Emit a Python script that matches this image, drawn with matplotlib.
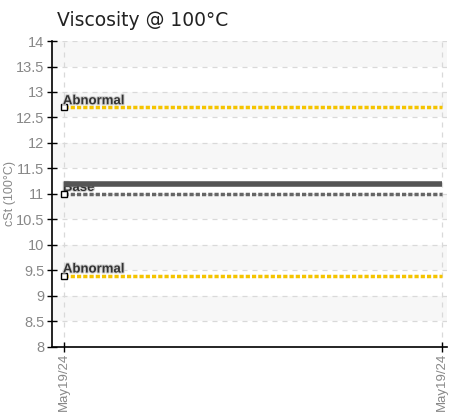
import numpy as np
import matplotlib.pyplot as plt
import matplotlib.patheffects as pe

# data
dates = [0, 1]
date_labels = ['May19/24', 'May19/24']
abnormal_hi = [12.7, 12.7]
abnormal_lo = [9.4, 9.4]
base = [11.0, 11.0]
result = [11.2, 11.2]
yticks = np.arange(8, 14.01, 0.5)

narrow = ['Liberation Sans', 'DejaVu Sans']

fig = plt.figure(figsize=(4.51, 4.15), dpi=100)
ax = fig.add_axes([0.1153, 0.1639, 0.991 - 0.1153, 0.9012 - 0.1639])

# alternating bands
for lo in np.arange(8.5, 14, 1.0):
    ax.axhspan(lo, lo + 0.5, color='#f7f7f7', zorder=0, lw=0)

ax.grid(True, color='#d9d9d9', linestyle=(0, (4, 4)), linewidth=0.9, zorder=1)

# lines
ax.plot(dates, result, color='#555555', lw=4, solid_capstyle='butt', zorder=3)
ax.plot(dates, base, color='#666666', lw=2.5, linestyle=(0, (1.2, 0.6)), zorder=3)
ax.plot(dates, abnormal_hi, color='#f5c400', lw=2.5, linestyle=(0, (1.2, 0.6)), zorder=3)
ax.plot(dates, abnormal_lo, color='#f5c400', lw=2.5, linestyle=(0, (1.2, 0.6)), zorder=3)

for y in [abnormal_hi[0], base[0], abnormal_lo[0]]:
    ax.plot(dates[0], y, marker='s', ms=4.5, mfc='white', mec='black', mew=1, zorder=5)

shadow = [pe.withStroke(linewidth=1.5, foreground='#d0d0d0')]
for y, txt, z in [(abnormal_hi[0], 'Abnormal', 6), (base[0], 'Base', 2), (abnormal_lo[0], 'Abnormal', 6)]:
    ax.text(dates[0] - 0.003, y + 0.06, txt, fontsize=9.5, family=narrow,
            color='#333333', fontweight='bold', zorder=z, path_effects=shadow)

ax.set_xlim(-0.0318, 1.0136)
ax.set_ylim(8, 14)
ax.set_yticks(yticks)
ax.set_yticklabels(['%g' % v for v in yticks], family=narrow, fontsize=10.5, color='#888888')
ax.set_xticks(dates)
ax.set_xticklabels(date_labels, rotation=90, family=narrow, fontsize=9.5, color='#888888')
ax.tick_params(axis='y', direction='inout', length=7, width=1, color='black', pad=2)
ax.tick_params(axis='x', direction='inout', length=7, width=1, color='black', pad=1)

ax.spines['top'].set_visible(False)
ax.spines['right'].set_visible(False)
ax.spines['left'].set_color('black')
ax.spines['bottom'].set_color('black')
ax.spines['left'].set_linewidth(1.2)
ax.spines['bottom'].set_linewidth(1.2)

ax.set_ylabel('cSt (100°C)', family=narrow, fontsize=9, color='#888888')
ax.yaxis.set_label_coords(-36 / 395, 0.5)
fig.text(57 / 451, 1 - 20 / 415, 'Viscosity @ 100°C', fontsize=13.5, color='#222222',
         va='center', ha='left')

fig.savefig('out.png', dpi=100)
